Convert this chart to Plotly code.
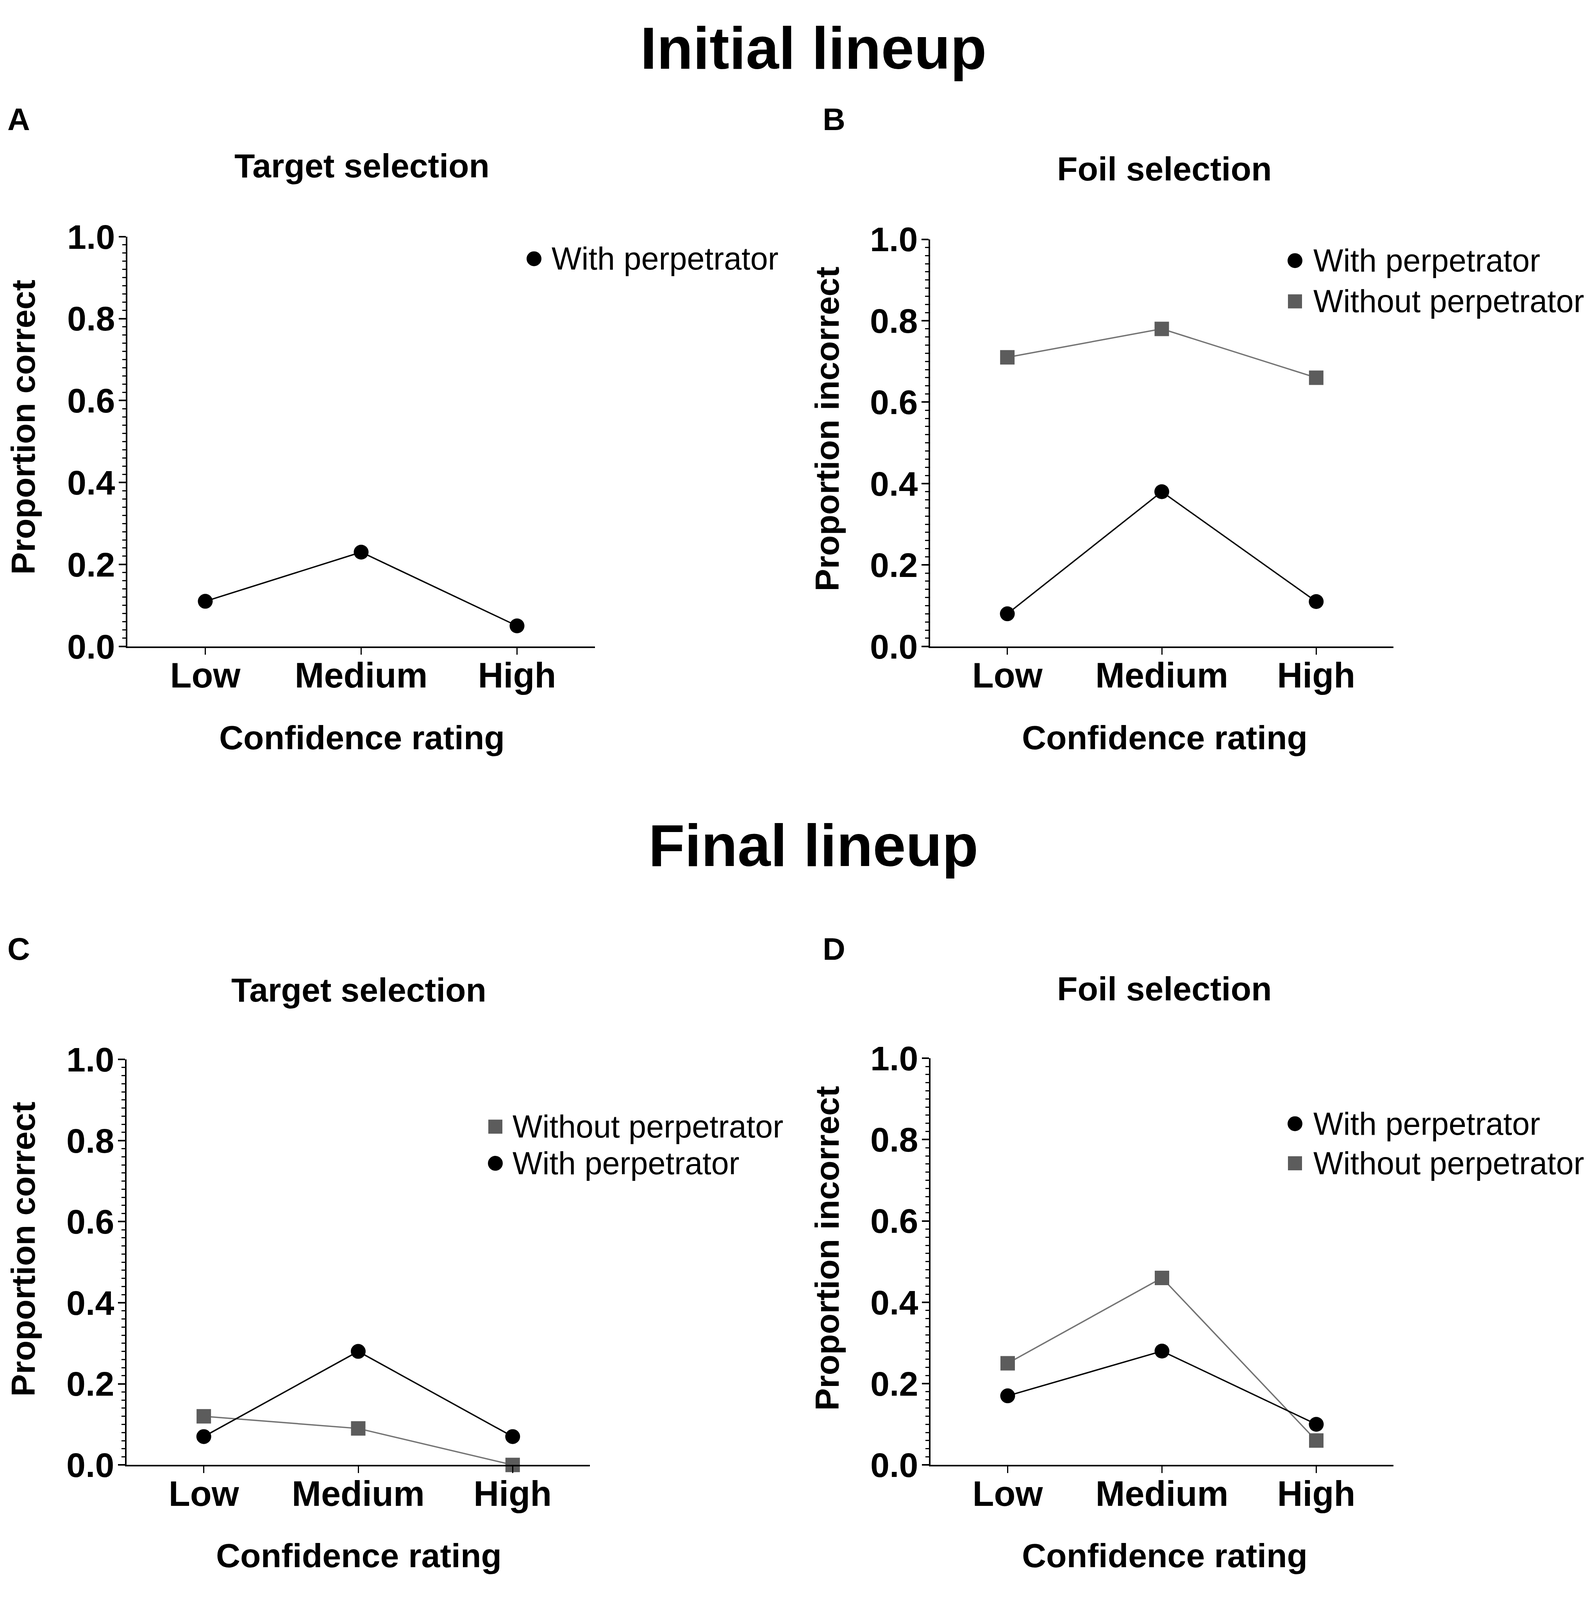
import plotly.graph_objects as go

W, H_REF = 4083, 4177
H = 4096  # visible height of the browser viewport

# ---------------- data ----------------
confidence = ["Low", "Medium", "High"]
y_ticks = [0.0, 0.2, 0.4, 0.6, 0.8, 1.0]

a_with = [0.11, 0.23, 0.05]
b_with = [0.08, 0.38, 0.11]
b_without = [0.71, 0.78, 0.66]
c_with = [0.07, 0.28, 0.07]
c_without = [0.12, 0.09, 0.00]
d_with = [0.17, 0.28, 0.10]
d_without = [0.25, 0.46, 0.06]

label_with = "With perpetrator"
label_without = "Without perpetrator"

FONT = "Liberation Sans, Arial, Helvetica, sans-serif"
BLACK = "#000000"
GRAY_M = "#5c5c5c"
GRAY_L = "#737373"


def px(x):
    return x / W


def py(y):
    return 1 - y / H_REF


# panel domains (reference pixel coordinates of plot area)
domains = {
    "": ((326, 1523), (582, 1678)),
    "2": ((2381, 3567), (589, 1678)),
    "3": ((324, 1510), (2783, 3868)),
    "4": ((2382, 3567), (2780, 3868)),
}

fig = go.Figure()


def add_series(ax, values, kind):
    if kind == "with":
        fig.add_trace(go.Scatter(
            x=confidence, y=values, mode="lines+markers", name=label_with,
            line=dict(color=BLACK, width=3.5),
            marker=dict(symbol="circle", size=38, color=BLACK),
            xaxis="x" + ax, yaxis="y" + ax, showlegend=False, cliponaxis=False))
    else:
        fig.add_trace(go.Scatter(
            x=confidence, y=values, mode="lines+markers", name=label_without,
            line=dict(color=GRAY_L, width=3.5),
            marker=dict(symbol="square", size=37, color=GRAY_M),
            xaxis="x" + ax, yaxis="y" + ax, showlegend=False, cliponaxis=False))


add_series("", a_with, "with")
add_series("2", b_without, "without")
add_series("2", b_with, "with")
add_series("3", c_without, "without")
add_series("3", c_with, "with")
add_series("4", d_without, "without")
add_series("4", d_with, "with")

layout = dict(
    width=W, height=H,
    margin=dict(l=0, r=0, t=0, b=0),
    paper_bgcolor="white", plot_bgcolor="white",
    font=dict(family=FONT, color=BLACK),
    showlegend=False,
)

for ax, ((x0, x1), (y0, y1)) in domains.items():
    layout["xaxis" + ax] = dict(
        domain=[px(x0), px(x1)], anchor="y" + ax,
        type="category", categoryorder="array", categoryarray=confidence,
        range=[-0.5, 2.5], showline=True, linewidth=4, linecolor=BLACK,
        ticks="outside", ticklen=17, tickwidth=3, tickcolor=BLACK,
        ticklabelstandoff=-24,
        tickfont=dict(size=90, family=FONT, weight="bold", color=BLACK),
        showgrid=False, zeroline=False, fixedrange=True,
    )
    layout["yaxis" + ax] = dict(
        domain=[py(y1), py(y0)], anchor="x" + ax,
        range=[0, 1], showline=True, linewidth=4, linecolor=BLACK,
        tickmode="array", tickvals=y_ticks, tickformat=".1f",
        ticks="outside", ticklen=18, tickwidth=4, tickcolor=BLACK,
        ticklabelstandoff=-8,
        tickfont=dict(size=88, family=FONT, weight="bold", color=BLACK),
        minor=dict(tickmode="linear", tick0=0, dtick=0.02, ticks="outside",
                   ticklen=9, tickwidth=3, tickcolor=BLACK, showgrid=False),
        showgrid=False, zeroline=False, fixedrange=True,
    )

fig.update_layout(**layout)

annotations = []


def text(t, x, y, size, bold=True, angle=0, xanchor="center"):
    annotations.append(dict(
        text=t, x=px(x), y=py(y), xref="paper", yref="paper",
        xanchor=xanchor, yanchor="middle", showarrow=False, textangle=angle,
        font=dict(size=size, family=FONT, color=BLACK,
                  weight="bold" if bold else "normal")))


# main titles
text("Initial lineup", 2082, 77, 152)
text("Final lineup", 2082, 2210, 152)
# panel letters
text("A", 48, 268, 80)
text("B", 2135, 268, 80)
text("C", 48, 2488, 80)
text("D", 2135, 2488, 80)
# panel titles
text("Target selection", 926, 392, 86)
text("Foil selection", 2981, 400, 86)
text("Target selection", 918, 2597, 86)
text("Foil selection", 2981, 2594, 86)
# y-axis titles
text("Proportion correct", 59, 1092, 86, angle=-90)
text("Proportion incorrect", 2117, 1097, 86, angle=-90)
text("Proportion correct", 59, 3291, 86, angle=-90)
text("Proportion incorrect", 2117, 3289, 86, angle=-90)
# x-axis titles
text("Confidence rating", 926, 1922, 86)
text("Confidence rating", 2981, 1922, 86)
text("Confidence rating", 918, 4110, 86)
text("Confidence rating", 2981, 4110, 86)

shapes = []


def legend_item(kind, cx, cy, tx):
    if kind == "with":
        r = 19
        shapes.append(dict(type="circle", xref="paper", yref="paper",
                           xsizemode="pixel", ysizemode="pixel",
                           xanchor=px(cx), yanchor=py(cy),
                           x0=-r, x1=r, y0=-r, y1=r,
                           fillcolor=BLACK, line=dict(width=0)))
        text(label_with, tx, cy, 81, bold=False, xanchor="left")
    else:
        r = 18
        shapes.append(dict(type="rect", xref="paper", yref="paper",
                           xsizemode="pixel", ysizemode="pixel",
                           xanchor=px(cx), yanchor=py(cy),
                           x0=-r, x1=r, y0=-r, y1=r,
                           fillcolor=GRAY_M, line=dict(width=0)))
        text(label_without, tx, cy, 81, bold=False, xanchor="left")


legend_item("with", 1367, 641, 1410)
legend_item("with", 3315, 646, 3360)
legend_item("without", 3315, 755, 3360)
legend_item("without", 1268, 2963, 1310)
legend_item("with", 1268, 3061, 1310)
legend_item("with", 3315, 2955, 3360)
legend_item("without", 3315, 3061, 3360)

fig.update_layout(annotations=annotations, shapes=shapes)

fig.write_html(
    "out.html",
    config={"displayModeBar": False, "responsive": False},
    post_script="document.body.style.margin='0px';"
                "document.body.style.overflow='hidden';",
)
